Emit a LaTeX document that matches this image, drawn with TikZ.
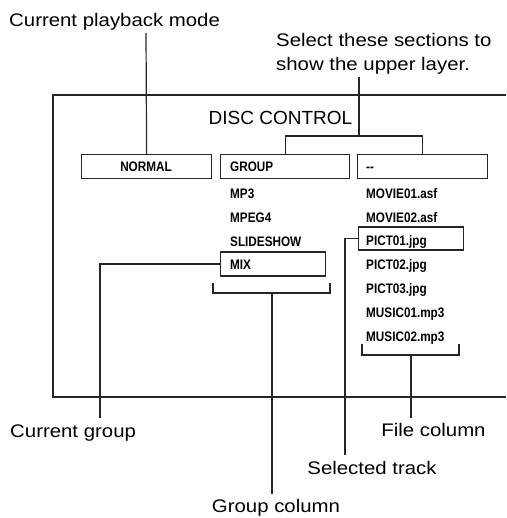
\documentclass[tikz,border=0pt]{standalone}
\usepackage{fontspec}
\setmainfont{Liberation Sans}
\newfontfamily\lab[FakeStretch=1.12]{Liberation Sans}
\newfontfamily\cond[FakeStretch=0.85]{Liberation Sans}
\begin{document}
\begin{tikzpicture}[x=1pt,y=-1pt,
  ln/.style={line width=1.2pt, draw=black!85},
  fr/.style={line width=1.1pt, draw=black!85},
  lbl/.style={font=\lab\fontsize{18.2}{22}\selectfont, inner sep=0pt, anchor=base west},
  item/.style={font=\cond\bfseries\fontsize{13.8}{16}\selectfont, inner sep=0pt, anchor=base west},
  box/.style={draw=black!85, line width=1.2pt, minimum height=24pt, inner sep=0pt, anchor=west}]
\useasboundingbox (0,0) rectangle (506,518);
% frame
\draw[fr] (506,95) -- (53,95) -- (53,397) -- (506,397);
\node[font=\fontsize{19}{22}\selectfont, inner sep=0pt, anchor=base] (title) at (280.5,125) {DISC CONTROL};
% boxes
\node[box, minimum width=130pt] (normal) at (81,166.5) {};
\node[item, anchor=base] (normalt) at (146,172) {NORMAL};
\node[box, minimum width=129pt] (group) at (220,166.5) {};
\node[item] (groupt) at (230,172) {GROUP};
\node[box, minimum width=130pt] (dash) at (357,166.5) {};
\node[item] (dasht) at (366,172) {--};
\node[box, minimum width=105pt] (mix) at (220,264) {};
\node[box, minimum width=105pt, minimum height=23pt] (pict) at (358,238.5) {};
% group list
\node[item] (mp3) at (230,198.5) {MP3};
\node[item] (mpeg4) at (230,222.5) {MPEG4};
\node[item] (slide) at (230,246) {SLIDESHOW};
\node[item] (mixt) at (230,269.5) {MIX};
% file list
\node[item] (m1) at (366,198.5) {MOVIE01.asf};
\node[item] (m2) at (366,222.5) {MOVIE02.asf};
\node[item] (p1) at (366,245.5) {PICT01.jpg};
\node[item] (p2) at (366,269.5) {PICT02.jpg};
\node[item] (p3) at (366,293.5) {PICT03.jpg};
\node[item] (mu1) at (366,317.5) {MUSIC01.mp3};
\node[item] (mu2) at (366,341) {MUSIC02.mp3};
% labels
\node[lbl] (lmode) at (9,26.5) {Current playback mode};
\node[lbl] (lsel1) at (276,47) {Select these sections to};
\node[lbl] (lsel2) at (276,71) {show the upper layer.};
\node[lbl] (lcg) at (10,437.5) {Current group};
\node[lbl, anchor=base] (lgc) at (276,512.5) {Group column};
\node[lbl, anchor=base] (lst) at (372,474) {Selected track};
\node[lbl, anchor=base] (lfc) at (433.5,436.5) {File column};
% coordinates
\coordinate (cmode) at (146,33);
\coordinate (csel) at (359,77);
\coordinate (cselj) at (359,136);
\coordinate (cgc) at (272,494);
\coordinate (cfc) at (411,418);
\coordinate (ccg) at (100,418);
\coordinate (cst) at (345,455);
% connectors
\draw[ln] (cmode) -- (normal.north);
\draw[ln] (csel) -- (cselj);
\draw[ln] (group.north) -- (group.north |- cselj) -- (dash.north |- cselj) -- (dash.north);
\draw[ln] (213,283) -- (213,293) -- (330,293) -- (330,283);
\draw[ln] (cgc |- 0,293) -- (cgc);
\draw[ln] (362,344) -- (362,355) -- (459,355) -- (459,344);
\draw[ln] (cfc |- 0,355) -- (cfc);
\draw[ln] (mix.west) -| (ccg);
\draw[ln] (pict.west) -| (cst);
\end{tikzpicture}
\end{document}
